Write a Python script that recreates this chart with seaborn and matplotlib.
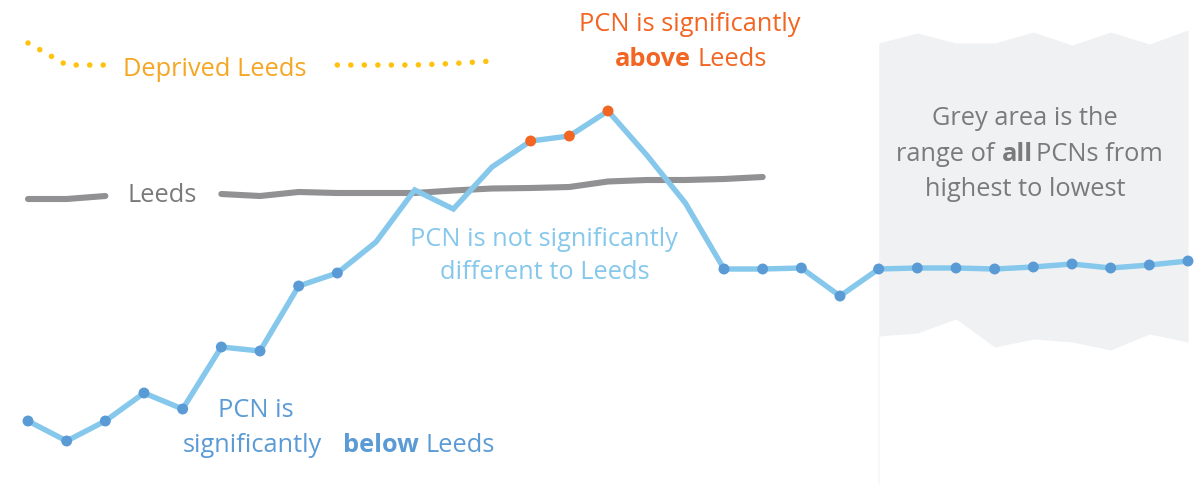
import numpy as np
import pandas as pd
import matplotlib
matplotlib.use("Agg")
import matplotlib.pyplot as plt
import seaborn as sns

# ---------------- data ----------------
pcn_values = [6.3, 4.3, 6.3, 9.1, 7.5, 13.7, 13.3, 19.8, 21.1, 24.2,
              29.4, 27.5, 31.7, 34.3, 34.8, 37.3, 32.9, 28.1, 21.5, 21.5,
              21.6, 18.8, 21.5, 21.6, 21.6, 21.5, 21.7, 22.0, 21.6, 21.9, 22.3]
pcn_signif = (["below"] * 9 + ["none"] * 4 + ["above"] * 3 + ["none"] * 2
              + ["below"] * 13)

leeds_values = [28.5, 28.5, 28.8, np.nan, np.nan, 29.0, 28.8, 29.2, 29.1, 29.1,
                29.1, 29.35, 29.55, 29.6, 29.7, 30.25, 30.4, 30.4, 30.5, 30.7]

deprived_values = [44.1, 41.9, 41.9, np.nan, np.nan, np.nan, np.nan, np.nan,
                   41.9, 41.9, 41.9, 42.05, 42.3]

range_index = [22, 23, 24, 25, 26, 27, 28, 29, 30]
range_high = [44.1, 45.1, 44.1, 44.1, 45.2, 43.9, 45.2, 44.0, 45.4]
range_low = [14.8, 15.1, 16.5, 13.7, 14.5, 14.2, 13.4, 15.0, 14.2]

# ---------------- styling ----------------
C_LINE = "#85C8EC"
C_BLUE = "#5B9BD5"
C_ORANGE = "#F26522"
C_GREY_LINE = "#919194"
C_GREY_TEXT = "#7A7A7A"
C_YELLOW = "#FFC20E"
C_YELLOW_TEXT = "#F5A623"
C_AREA = "#F0F1F3"
FS = 18.3

sns.set_theme(style="white")
plt.rcParams["font.family"] = ["Open Sans", "DejaVu Sans"]

W, H = 1200, 484
fig = plt.figure(figsize=(W / 100, H / 100), dpi=100)
ax = fig.add_axes([0, 0, 1, 1])
step = (1188 - 28) / 30
ax.set_xlim(-28 / step, (W - 28) / step)
ax.set_ylim(0, H / 10)
ax.axis("off")


def segments(values):
    seg, out, prev_nan = 0, [], False
    for v in values:
        if np.isnan(v):
            prev_nan = True
            out.append(-1)
        else:
            if prev_nan:
                seg += 1
            prev_nan = False
            out.append(seg)
    return out


# grey range area
df_range = pd.DataFrame({"i": range_index, "hi": range_high, "lo": range_low})
ax.fill_between(df_range["i"], df_range["lo"], df_range["hi"], color=C_AREA,
                lw=0, zorder=0)
ax.plot([range_index[0], range_index[0]], [0, range_low[0]], color="#F7F7F8",
        lw=1.2, zorder=0)

# Leeds line
df_leeds = pd.DataFrame({"i": np.arange(len(leeds_values)), "v": leeds_values})
df_leeds["seg"] = segments(leeds_values)
df_leeds = df_leeds[df_leeds["seg"] >= 0]
sns.lineplot(data=df_leeds, x="i", y="v", units="seg", estimator=None,
             color=C_GREY_LINE, lw=4.4, solid_capstyle="round", ax=ax,
             zorder=2, legend=False)

# Deprived Leeds dotted line
df_dep = pd.DataFrame({"i": np.arange(len(deprived_values)), "v": deprived_values})
df_dep["seg"] = segments(deprived_values)
df_dep = df_dep[df_dep["seg"] >= 0]
n_before = len(ax.lines)
sns.lineplot(data=df_dep, x="i", y="v", units="seg", estimator=None,
             color=C_YELLOW, lw=4.0, ax=ax, zorder=2, legend=False)
for ln in ax.lines[n_before:]:
    ln.set_linestyle((0, (0.001, 2.43)))
    ln.set_dash_capstyle("round")

# PCN line
df_pcn = pd.DataFrame({"i": np.arange(len(pcn_values)), "v": pcn_values,
                       "sig": pcn_signif})
sns.lineplot(data=df_pcn, x="i", y="v", color=C_LINE, lw=3.9,
             solid_joinstyle="miter", ax=ax, zorder=3, legend=False)
df_dots = df_pcn[df_pcn["sig"] != "none"]
sns.scatterplot(data=df_dots, x="i", y="v", hue="sig",
                palette={"below": C_BLUE, "above": C_ORANGE},
                s=62, linewidth=0, ax=ax, zorder=4, legend=False)


# ---------------- text ----------------
def txt(x, y, s, color, size=FS, weight="normal", ha="left"):
    fig.text(x / W, 1 - y / H, s, color=color, fontsize=size,
             fontweight=weight, ha=ha, va="baseline", zorder=5)


txt(123, 76, "Deprived Leeds", C_YELLOW_TEXT)
txt(127, 202, "Leeds", C_GREY_TEXT)

txt(690, 31, "PCN is significantly", C_ORANGE, ha="center")
txt(615, 66, "above", C_ORANGE, weight="bold")
txt(697, 66, "Leeds", C_ORANGE)

txt(544, 246, "PCN is not significantly", C_LINE, ha="center")
txt(545, 279, "different to Leeds", C_LINE, ha="center")

txt(218, 417, "PCN is", C_BLUE)
txt(183, 452, "significantly", C_BLUE)
txt(343, 452, "below", C_BLUE, weight="bold")
txt(425, 452, "Leeds", C_BLUE)

txt(1025, 125, "Grey area is the", C_GREY_TEXT, ha="center")
txt(896, 161, "range of", C_GREY_TEXT)
txt(1002, 161, "all", C_GREY_TEXT, weight="bold")
txt(1036, 161, "PCNs from", C_GREY_TEXT)
txt(1025, 196, "highest to lowest", C_GREY_TEXT, ha="center")

fig.savefig("out.png", dpi=100, facecolor="white")
